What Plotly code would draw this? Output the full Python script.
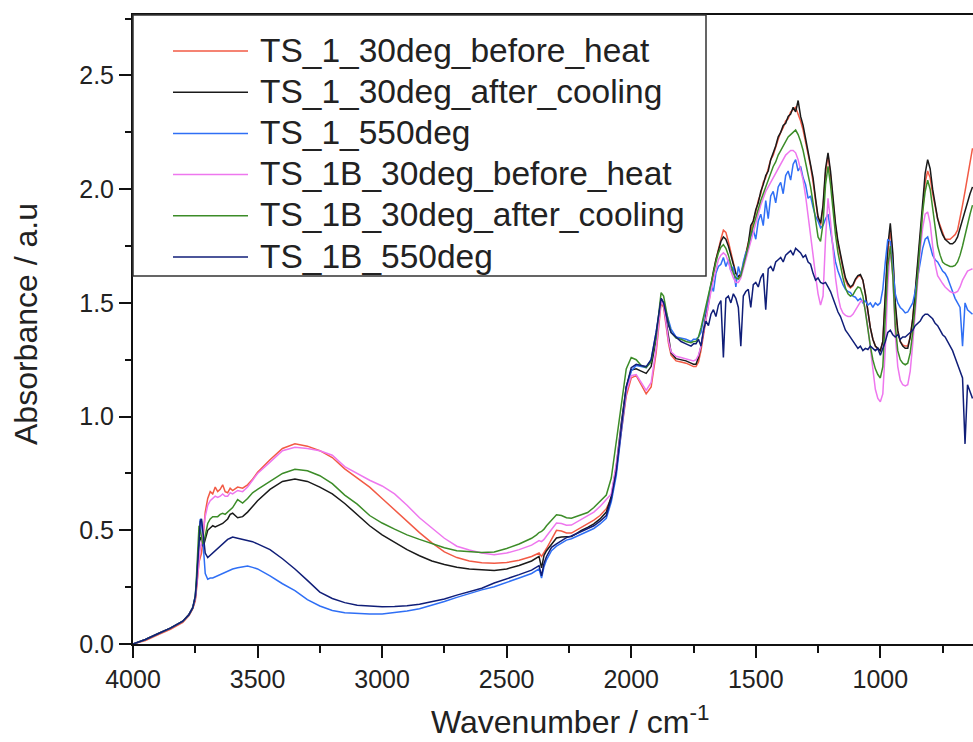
import plotly.graph_objects as go

# ---------------- data ----------------
names = ["TS_1_30deg_before_heat", "TS_1_30deg_after_cooling", "TS_1_550deg",
         "TS_1B_30deg_before_heat", "TS_1B_30deg_after_cooling", "TS_1B_550deg"]
colors = ["#f25a45", "#1a1a1a", "#2f6ff5", "#ee77ee", "#3c8c28", "#101e78"]

wn_main = [
    4000, 3950, 3900, 3850, 3800, 3775, 3760, 3750, 3745, 3740,
    3735, 3730, 3725, 3720, 3715, 3710, 3700, 3690, 3680, 3670,
    3660, 3650, 3640, 3630, 3620, 3610, 3600, 3580, 3560, 3540,
    3520, 3500, 3450, 3400, 3350, 3300, 3250, 3200, 3150, 3100,
    3050, 3000, 2950, 2900, 2850, 2800, 2750, 2700, 2650, 2600,
    2550, 2500, 2450, 2400, 2380, 2370, 2360, 2350, 2340, 2320,
    2300, 2280, 2260, 2240, 2220, 2200, 2175, 2150, 2125, 2100,
    2080, 2060, 2040, 2020, 2000, 1980, 1960, 1940, 1920, 1900,
    1880, 1870, 1860, 1850, 1840, 1820, 1800, 1780, 1760, 1750,
]
wn_fine = list(range(1740, 629, -10))   # 1740 ... 630

red_main = [
    0.0, 0.015, 0.04, 0.065, 0.095, 0.125, 0.155, 0.19, 0.24, 0.30,
    0.36, 0.38, 0.40, 0.45, 0.52, 0.58, 0.64, 0.67, 0.66, 0.69,
    0.67, 0.68, 0.70, 0.67, 0.665, 0.685, 0.675, 0.69, 0.685, 0.70,
    0.725, 0.755, 0.81, 0.86, 0.88, 0.87, 0.85, 0.82, 0.77, 0.73,
    0.69, 0.64, 0.59, 0.54, 0.49, 0.445, 0.405, 0.38, 0.365, 0.357,
    0.355, 0.358, 0.368, 0.385, 0.395, 0.40, 0.385, 0.40, 0.42, 0.46,
    0.50, 0.497, 0.488, 0.488, 0.50, 0.513, 0.53, 0.545, 0.565, 0.595,
    0.64, 0.76, 0.93, 1.09, 1.17, 1.18, 1.14, 1.10, 1.13, 1.28,
    1.50, 1.48, 1.40, 1.32, 1.27, 1.245, 1.24, 1.235, 1.225, 1.22,
]
red_fine = [
    1.22, 1.24, 1.29, 1.36, 1.44, 1.51, 1.57, 1.63, 1.69, 1.74,
    1.78, 1.82, 1.81, 1.77, 1.72, 1.67, 1.63, 1.615, 1.63, 1.67,
    1.72, 1.77, 1.82, 1.86, 1.90, 1.95, 1.98, 2.03, 2.05, 2.09,
    2.13, 2.15, 2.19, 2.22, 2.25, 2.27, 2.30, 2.31, 2.34, 2.35,
    2.36, 2.33, 2.30, 2.26, 2.21, 2.16, 2.10, 2.03, 1.95, 1.87,
    1.84, 1.92, 2.07, 2.15, 2.06, 1.94, 1.84, 1.76, 1.70, 1.65,
    1.60, 1.575, 1.565, 1.575, 1.60, 1.615, 1.62, 1.60, 1.54, 1.46,
    1.39, 1.34, 1.31, 1.295, 1.29, 1.33, 1.50, 1.72, 1.82, 1.70,
    1.48, 1.37, 1.33, 1.315, 1.31, 1.31, 1.35, 1.43, 1.54, 1.66,
    1.80, 1.93, 2.03, 2.08, 2.05, 1.98, 1.92, 1.87, 1.84, 1.81,
    1.78, 1.78, 1.78, 1.79, 1.80, 1.82, 1.87, 1.93, 1.99, 2.06,
    2.12, 2.18,
]

black_main = [
    0.0, 0.02, 0.045, 0.07, 0.10, 0.13, 0.16, 0.20, 0.26, 0.34,
    0.45, 0.47, 0.45, 0.43, 0.44, 0.46, 0.50, 0.51, 0.52, 0.515,
    0.52, 0.525, 0.53, 0.54, 0.55, 0.57, 0.575, 0.555, 0.56, 0.58,
    0.605, 0.63, 0.68, 0.715, 0.726, 0.715, 0.69, 0.66, 0.618, 0.57,
    0.52, 0.48, 0.447, 0.415, 0.388, 0.365, 0.35, 0.338, 0.33, 0.326,
    0.323, 0.33, 0.345, 0.365, 0.38, 0.385, 0.335, 0.39, 0.41, 0.44,
    0.466, 0.47, 0.47, 0.473, 0.485, 0.50, 0.513, 0.528, 0.55, 0.58,
    0.65, 0.78, 0.97, 1.13, 1.205, 1.21, 1.20, 1.19, 1.22, 1.34,
    1.52, 1.50, 1.42, 1.34, 1.28, 1.255, 1.25, 1.245, 1.235, 1.23,
]
black_fine = [
    1.23, 1.26, 1.31, 1.37, 1.45, 1.52, 1.57, 1.64, 1.69, 1.73,
    1.77, 1.79, 1.78, 1.75, 1.71, 1.66, 1.63, 1.615, 1.625, 1.66,
    1.71, 1.76, 1.84, 1.86, 1.91, 1.94, 1.99, 2.02, 2.06, 2.08,
    2.13, 2.16, 2.19, 2.23, 2.25, 2.28, 2.29, 2.32, 2.33, 2.36,
    2.34, 2.39, 2.32, 2.28, 2.22, 2.17, 2.11, 2.05, 1.96, 1.88,
    1.85, 1.93, 2.09, 2.16, 2.08, 1.95, 1.85, 1.77, 1.71, 1.66,
    1.61, 1.585, 1.57, 1.58, 1.605, 1.62, 1.625, 1.60, 1.54, 1.46,
    1.39, 1.34, 1.31, 1.30, 1.29, 1.33, 1.52, 1.75, 1.85, 1.72,
    1.50, 1.38, 1.33, 1.31, 1.30, 1.30, 1.35, 1.43, 1.55, 1.68,
    1.82, 1.96, 2.07, 2.13, 2.09, 2.00, 1.93, 1.87, 1.83, 1.80,
    1.78, 1.77, 1.76, 1.76, 1.77, 1.79, 1.83, 1.87, 1.91, 1.95,
    1.98, 2.01,
]

blue_main = [
    0.0, 0.02, 0.045, 0.07, 0.10, 0.13, 0.16, 0.21, 0.28, 0.37,
    0.46, 0.55, 0.54, 0.46, 0.37, 0.31, 0.285, 0.29, 0.29, 0.295,
    0.30, 0.305, 0.31, 0.315, 0.32, 0.325, 0.33, 0.335, 0.34, 0.343,
    0.337, 0.33, 0.30, 0.265, 0.235, 0.195, 0.167, 0.147, 0.137, 0.133,
    0.132, 0.132, 0.137, 0.145, 0.155, 0.17, 0.187, 0.205, 0.222, 0.238,
    0.252, 0.27, 0.29, 0.31, 0.325, 0.33, 0.29, 0.34, 0.37, 0.41,
    0.43, 0.445, 0.457, 0.463, 0.473, 0.483, 0.495, 0.508, 0.528, 0.553,
    0.625, 0.74, 0.93, 1.11, 1.20, 1.225, 1.22, 1.215, 1.25, 1.37,
    1.51, 1.50, 1.46, 1.42, 1.385, 1.35, 1.345, 1.34, 1.33, 1.34,
]
blue_fine = [
    1.34, 1.35, 1.37, 1.43, 1.47, 1.52, 1.58, 1.55, 1.63, 1.66,
    1.67, 1.70, 1.66, 1.69, 1.64, 1.66, 1.57, 1.66, 1.62, 1.68,
    1.72, 1.74, 1.79, 1.82, 1.78, 1.86, 1.89, 1.84, 1.95, 1.87,
    1.97, 1.99, 1.94, 2.01, 2.03, 1.98, 2.06, 2.08, 2.04, 2.11,
    2.13, 2.08, 2.10, 2.05, 2.02, 1.96, 1.97, 1.92, 1.88, 1.86,
    1.83, 1.84, 1.87, 1.89, 1.82, 1.74, 1.68, 1.64, 1.61, 1.58,
    1.56, 1.55, 1.545, 1.53, 1.525, 1.51, 1.52, 1.50, 1.51, 1.49,
    1.50, 1.48, 1.50, 1.49, 1.50, 1.56, 1.68, 1.78, 1.77, 1.64,
    1.54, 1.50, 1.48, 1.47, 1.456, 1.46, 1.48, 1.50, 1.55, 1.62,
    1.68, 1.74, 1.78, 1.79, 1.75, 1.71, 1.69, 1.68, 1.66, 1.64,
    1.63, 1.61, 1.58, 1.55, 1.52, 1.50, 1.48, 1.31, 1.50, 1.47,
    1.46, 1.45,
]

pink_main = [
    0.0, 0.02, 0.045, 0.07, 0.10, 0.13, 0.16, 0.20, 0.25, 0.32,
    0.38, 0.42, 0.45, 0.48, 0.52, 0.56, 0.61, 0.63, 0.64, 0.65,
    0.645, 0.65, 0.66, 0.65, 0.65, 0.665, 0.66, 0.675, 0.67, 0.69,
    0.72, 0.75, 0.80, 0.85, 0.865, 0.86, 0.85, 0.83, 0.78, 0.75,
    0.72, 0.695, 0.66, 0.61, 0.555, 0.51, 0.465, 0.43, 0.413, 0.40,
    0.393, 0.40, 0.415, 0.435, 0.447, 0.455, 0.45, 0.46, 0.475, 0.505,
    0.532, 0.53, 0.522, 0.523, 0.535, 0.548, 0.565, 0.58, 0.605, 0.635,
    0.66, 0.79, 0.96, 1.11, 1.18, 1.185, 1.15, 1.115, 1.15, 1.30,
    1.51, 1.49, 1.41, 1.33, 1.285, 1.265, 1.26, 1.255, 1.25, 1.245,
]
pink_fine = [
    1.25, 1.27, 1.31, 1.37, 1.44, 1.50, 1.55, 1.60, 1.65, 1.69,
    1.71, 1.72, 1.71, 1.68, 1.64, 1.61, 1.59, 1.59, 1.61, 1.65,
    1.70, 1.74, 1.78, 1.82, 1.86, 1.89, 1.93, 1.96, 1.99, 2.01,
    2.03, 2.05, 2.07, 2.09, 2.11, 2.13, 2.15, 2.16, 2.17, 2.17,
    2.16, 2.13, 2.09, 2.04, 1.97, 1.89, 1.80, 1.71, 1.62, 1.54,
    1.49, 1.53, 1.78, 1.96, 1.86, 1.72, 1.61, 1.53, 1.48, 1.455,
    1.445, 1.44, 1.44, 1.45, 1.47, 1.49, 1.505, 1.51, 1.47, 1.39,
    1.30, 1.20, 1.12, 1.08, 1.065, 1.10, 1.30, 1.58, 1.74, 1.62,
    1.36, 1.22, 1.16, 1.14, 1.135, 1.14, 1.20, 1.32, 1.47, 1.61,
    1.73, 1.83, 1.89, 1.90, 1.85, 1.75, 1.67, 1.62, 1.60, 1.585,
    1.57, 1.56, 1.55, 1.545, 1.545, 1.55, 1.57, 1.60, 1.62, 1.64,
    1.645, 1.65,
]

green_main = [
    0.0, 0.02, 0.045, 0.07, 0.10, 0.13, 0.16, 0.21, 0.30, 0.42,
    0.52, 0.50, 0.46, 0.44, 0.45, 0.48, 0.53, 0.55, 0.56, 0.56,
    0.56, 0.57, 0.575, 0.57, 0.58, 0.59, 0.60, 0.635, 0.62, 0.64,
    0.665, 0.68, 0.715, 0.75, 0.768, 0.762, 0.74, 0.705, 0.655, 0.615,
    0.565, 0.532, 0.505, 0.48, 0.46, 0.44, 0.423, 0.41, 0.405, 0.402,
    0.405, 0.42, 0.44, 0.465, 0.48, 0.49, 0.495, 0.505, 0.52, 0.545,
    0.568, 0.565, 0.555, 0.553, 0.56, 0.567, 0.578, 0.60, 0.627, 0.655,
    0.73, 0.89, 1.06, 1.21, 1.26, 1.25, 1.225, 1.215, 1.24, 1.35,
    1.545, 1.53, 1.47, 1.41, 1.37, 1.345, 1.34, 1.33, 1.325, 1.33,
]
green_fine = [
    1.33, 1.35, 1.39, 1.44, 1.49, 1.54, 1.58, 1.63, 1.68, 1.72,
    1.745, 1.756, 1.74, 1.71, 1.67, 1.63, 1.61, 1.605, 1.62, 1.66,
    1.70, 1.75, 1.80, 1.84, 1.88, 1.92, 1.95, 1.98, 2.01, 2.04,
    2.07, 2.10, 2.12, 2.15, 2.17, 2.19, 2.21, 2.23, 2.24, 2.25,
    2.26, 2.24, 2.21, 2.17, 2.12, 2.07, 2.01, 1.94, 1.86, 1.79,
    1.77, 1.85, 2.02, 2.10, 2.02, 1.90, 1.80, 1.72, 1.66, 1.61,
    1.565, 1.54, 1.53, 1.535, 1.555, 1.57, 1.565, 1.53, 1.46, 1.38,
    1.31, 1.25, 1.21, 1.185, 1.17, 1.22, 1.42, 1.66, 1.75, 1.62,
    1.40, 1.29, 1.25, 1.235, 1.228, 1.235, 1.28, 1.37, 1.49, 1.62,
    1.77, 1.90, 1.99, 2.04, 2.00, 1.91, 1.82, 1.75, 1.71, 1.68,
    1.67, 1.665, 1.66, 1.66, 1.665, 1.68, 1.71, 1.75, 1.80, 1.85,
    1.89, 1.93,
]

navy_main = [
    0.0, 0.02, 0.045, 0.07, 0.10, 0.13, 0.16, 0.21, 0.27, 0.35,
    0.45, 0.54, 0.55, 0.50, 0.44, 0.40, 0.38, 0.39, 0.40, 0.41,
    0.42, 0.43, 0.44, 0.45, 0.46, 0.465, 0.47, 0.465, 0.46, 0.455,
    0.45, 0.44, 0.415, 0.375, 0.33, 0.28, 0.228, 0.20, 0.182, 0.170,
    0.166, 0.164, 0.165, 0.168, 0.175, 0.185, 0.198, 0.215, 0.23, 0.245,
    0.268, 0.285, 0.305, 0.325, 0.34, 0.345, 0.30, 0.355, 0.385, 0.425,
    0.44, 0.455, 0.468, 0.475, 0.485, 0.495, 0.507, 0.52, 0.54, 0.565,
    0.64, 0.76, 0.95, 1.13, 1.215, 1.23, 1.225, 1.22, 1.25, 1.37,
    1.52, 1.50, 1.45, 1.40, 1.37, 1.35, 1.33, 1.32, 1.31, 1.32,
]
navy_fine = [
    1.32, 1.34, 1.31, 1.38, 1.42, 1.40, 1.45, 1.47, 1.44, 1.49,
    1.51, 1.26, 1.52, 1.53, 1.50, 1.54, 1.52, 1.48, 1.31, 1.53,
    1.55, 1.56, 1.48, 1.58, 1.59, 1.57, 1.61, 1.63, 1.47, 1.65,
    1.66, 1.64, 1.68, 1.69, 1.70, 1.68, 1.71, 1.72, 1.73, 1.71,
    1.74, 1.73, 1.72, 1.70, 1.71, 1.68, 1.67, 1.63, 1.60, 1.61,
    1.59, 1.585, 1.59, 1.57, 1.55, 1.52, 1.49, 1.46, 1.44, 1.41,
    1.38, 1.365, 1.35, 1.33, 1.32, 1.30, 1.31, 1.29, 1.30, 1.295,
    1.31, 1.30, 1.29, 1.30, 1.27, 1.30, 1.33, 1.37, 1.38, 1.36,
    1.35, 1.36, 1.34, 1.35, 1.35, 1.36, 1.37, 1.38, 1.40, 1.41,
    1.42, 1.44, 1.45, 1.45, 1.44, 1.43, 1.41, 1.40, 1.38, 1.36,
    1.35, 1.33, 1.31, 1.29, 1.26, 1.23, 1.20, 1.17, 0.88, 1.14,
    1.11, 1.08,
]

series = [red_main + red_fine, black_main + black_fine, blue_main + blue_fine,
          pink_main + pink_fine, green_main + green_fine, navy_main + navy_fine]

x_tickvals = [4000, 3500, 3000, 2500, 2000, 1500, 1000]
y_tickvals = [0.0, 0.5, 1.0, 1.5, 2.0, 2.5]

# ---------------- figure ----------------
FONT = "Liberation Sans, Arial, sans-serif"
W, H = 973, 742
ML, MR, MT, MB = 133, 0, 15, 98
PW, PH = W - ML - MR, H - MT - MB


def px(x):   # pixel x -> paper x
    return (x - ML) / PW


def py(y):   # pixel y -> paper y
    return (H - MB - y) / PH


wn_all = wn_main + wn_fine
fig = go.Figure()
for name, col, ys in zip(names, colors, series):
    fig.add_trace(go.Scatter(x=wn_all, y=ys, mode="lines", name=name,
                             showlegend=False,
                             line=dict(color=col, width=1.5)))

# legend box drawn in paper space (framed, like the original figure)
shapes = [dict(type="rect", xref="paper", yref="paper",
               x0=px(133), x1=px(706), y0=py(276), y1=py(15),
               line=dict(color="#333333", width=1.5), fillcolor="white",
               layer="above")]
annotations = []
row_y = 51
for name, col in zip(names, colors):
    shapes.append(dict(type="line", xref="paper", yref="paper",
                       x0=px(173), x1=px(248), y0=py(row_y), y1=py(row_y),
                       line=dict(color=col, width=1.5), layer="above"))
    annotations.append(dict(text=name, xref="paper", yref="paper",
                            x=px(258), y=py(row_y - 1), xanchor="left",
                            yanchor="middle", showarrow=False,
                            font=dict(size=33.5, family=FONT, color="#222222")))
    row_y += 41.2

annotations += [
    dict(text="Wavenumber / cm<sup>-1</sup>", xref="paper", yref="paper",
         x=px(570), y=py(720), xanchor="center", yanchor="middle",
         showarrow=False, font=dict(size=32, family=FONT, color="#222222")),
    dict(text="Absorbance / a.u", xref="paper", yref="paper",
         x=px(26), y=py(324), xanchor="center", yanchor="middle", textangle=-90,
         showarrow=False, font=dict(size=32, family=FONT, color="#222222")),
]

fig.update_layout(
    width=W, height=H,
    margin=dict(l=ML, r=MR, t=MT, b=MB),
    paper_bgcolor="white", plot_bgcolor="white",
    font=dict(family=FONT, color="#222222"),
    showlegend=False,
    shapes=shapes,
    annotations=annotations,
)
fig.update_xaxes(range=[4000, 628], tickvals=x_tickvals, ticks="outside",
                 ticklen=12, tickwidth=2, tickcolor="#111111",
                 showline=True, linewidth=2, linecolor="#111111", mirror=True,
                 showgrid=False, zeroline=False,
                 tickfont=dict(size=25, family=FONT, color="#222222"),
                 minor=dict(dtick=250, tick0=0, ticks="outside", ticklen=7,
                            tickwidth=2, tickcolor="#111111", showgrid=False))
fig.update_yaxes(range=[0, 2.766], tickvals=y_tickvals, tickformat=".1f",
                 ticks="outside", ticklen=12, tickwidth=2, tickcolor="#111111",
                 showline=True, linewidth=2, linecolor="#111111",
                 showgrid=False, zeroline=False,
                 tickfont=dict(size=25, family=FONT, color="#222222"),
                 minor=dict(dtick=0.25, tick0=0, ticks="outside", ticklen=6,
                            tickwidth=2, tickcolor="#111111", showgrid=False))

fig.write_html("out.html")
